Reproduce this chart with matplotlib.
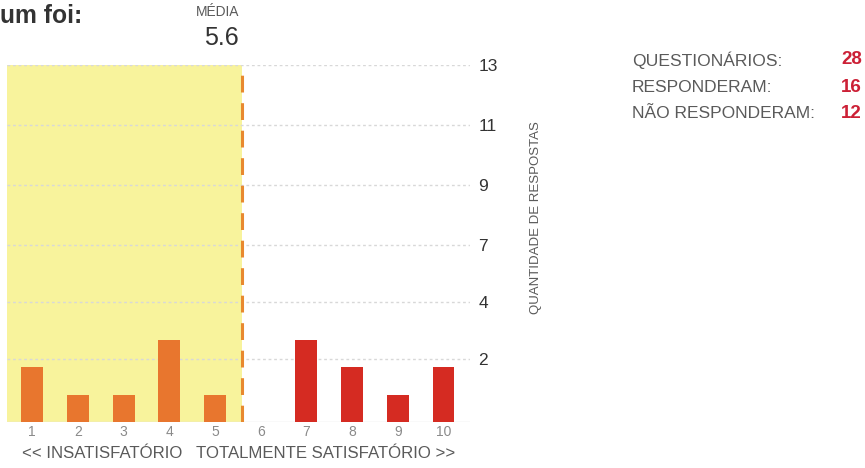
import matplotlib.pyplot as plt

plt.rcParams['font.family'] = ['Liberation Sans', 'DejaVu Sans']

# dados
notas = [1, 2, 3, 4, 5, 6, 7, 8, 9, 10]
respostas = [2, 1, 1, 3, 1, 0, 3, 2, 1, 2]
media = 5.6
grade_pos = [2.3, 4.4, 6.5, 8.7, 10.9, 13.1]
grade_lbl = ['2', '4', '7', '9', '11', '13']
resumo_lbl = ['QUESTIONÁRIOS:', 'RESPONDERAM:', 'NÃO RESPONDERAM:']
resumo_val = ['28', '16', '12']

LARANJA = '#e8762e'
VERMELHO = '#d52b22'
AMARELO = '#f8f39c'
CINZA = '#5a5a5a'

W, H = 865, 468
fig = plt.figure(figsize=(W/100, H/100), dpi=100)
ax = fig.add_axes([7/W, 1 - 422/H, 463/W, 357/H])

ax.set_xlim(0.45, 10.58)
ax.set_ylim(0, 13.1)

# area insatisfatoria ate a media
ax.axvspan(0.45, media, color=AMARELO, zorder=0, lw=0)
ax.axvline(media, color='#e8892f', lw=2.2, ls=(0, (5.5, 3.5)), zorder=3)

for y in grade_pos:
    ax.axhline(y, color='#d8d8d8', lw=1, ls=(0, (2, 2)), zorder=1)
ax.axhline(0, color='#e3e3e3', lw=1, zorder=1)

cores = [LARANJA if n <= 5 else VERMELHO for n in notas]
ax.bar(notas, respostas, width=0.48, color=cores, zorder=2)

for s in ax.spines.values():
    s.set_visible(False)

ax.set_xticks(notas)
ax.set_xticklabels([str(n) for n in notas], fontsize=10, color='#8a8a8a')
ax.tick_params(axis='x', length=0, pad=2)

ax.yaxis.tick_right()
ax.set_yticks(grade_pos)
ax.set_yticklabels(grade_lbl, fontsize=12.5, color='#333333')
ax.tick_params(axis='y', length=0, pad=6)

fig.text(536/W, 1 - 218/H, 'QUANTIDADE DE RESPOSTAS', rotation=90,
         fontsize=9.5, color=CINZA, ha='center', va='center')

fig.canvas.draw()
rend = fig.canvas.get_renderer()


def texto(x, y, s, largura=None, **kw):
    # ajusta o tamanho da fonte para a largura medida na imagem
    t = fig.text(x/W, 1 - y/H, s, **kw)
    if largura:
        w = t.get_window_extent(rend).width
        t.set_fontsize(t.get_fontsize() * largura / w)
    return t


texto(22, 454, '<< INSATISFATÓRIO   TOTALMENTE SATISFATÓRIO >>', largura=433,
      fontsize=12, color=CINZA, ha='left', va='center')

# cabecalho
texto(0, 16, 'um foi:', largura=82, fontsize=16, fontweight='bold',
      color='#333333', ha='left', va='center')
texto(218, 12, 'MÉDIA', largura=43, fontsize=8, color=CINZA,
      ha='center', va='center')
texto(239, 38, str(media), largura=35, fontsize=16, color='#333333',
      ha='right', va='center')

# resumo
ys = [60, 87, 113]
for lbl, val, y in zip(resumo_lbl, resumo_val, ys):
    texto(632, y, lbl, largura=151 if lbl == resumo_lbl[0] else None,
          fontsize=12.5, color=CINZA, ha='left', va='center')
    texto(862, y, val, fontsize=13.5, fontweight='bold',
          color='#cc2036', ha='right', va='center')

plt.savefig('out.png', dpi=100)
